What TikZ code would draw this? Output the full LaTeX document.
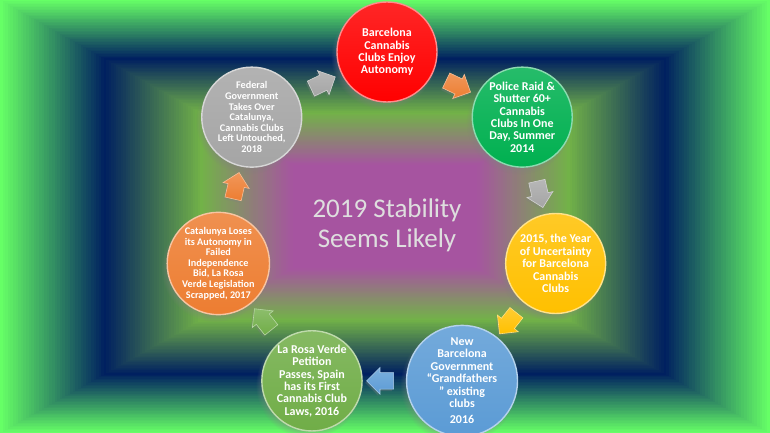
\documentclass[tikz,border=0pt]{standalone}
\usepackage{fontspec}
\setmainfont{Carlito}
\usetikzlibrary{calc,shapes.arrows,shadows,positioning}
\definecolor{bgEdge}{RGB}{102,255,102}
\definecolor{bgNavy}{RGB}{0,32,96}
\definecolor{bgGreen}{RGB}{114,178,72}
\definecolor{bgPink}{RGB}{166,84,160}
\definecolor{cRed}{RGB}{255,0,0}
\definecolor{cGreen}{RGB}{0,176,80}
\definecolor{cGold}{RGB}{255,192,0}
\definecolor{cBlue}{RGB}{91,155,213}
\definecolor{cLime}{RGB}{112,173,71}
\definecolor{cOrange}{RGB}{237,125,49}
\definecolor{cGray}{RGB}{165,165,165}
\definecolor{ctrText}{RGB}{222,222,222}
\tikzset{x=1pt, y=1pt,
  stage/.style={circle, minimum size=100pt, inner sep=0pt, line width=1.4pt, draw=white!55!#1, top color=#1!85!white, bottom color=#1, text=white, align=center, font=\fontsize{12}{12.4}\selectfont\bfseries, circular drop shadow={shadow xshift=-3pt, shadow yshift=-4pt, opacity=.45, shadow scale=1.06}},
  small/.style={font=\fontsize{10.2}{10.6}\selectfont\bfseries},
  turn/.style={single arrow, single arrow head extend=5pt, minimum height=27pt, inner sep=8pt, line width=.6pt, draw=white!50!#1, top color=#1!80!white, bottom color=#1, sloped, allow upside down, drop shadow={shadow xshift=-1.5pt, shadow yshift=-2pt, opacity=.3}}}
% one band of the rectangular background gradient: t0, t1, outer colour, inner colour
\newcommand\bgband[4]{%
  \foreach \i in {0,...,40}{
    \pgfmathsetmacro\t{#1+(#2-#1)*\i/40}
    \pgfmathtruncatemacro\p{100-2.5*\i}
    \fill[#3!\p!#4] (\t*385,\t*216.5) rectangle (770-\t*385,433-\t*216.5);
  }}

\begin{document}
\begin{tikzpicture}
    \useasboundingbox (0,0) rectangle (770,433);
    % background
    \bgband{0}{0.27}{bgEdge}{bgNavy}
    \bgband{0.27}{0.52}{bgNavy}{bgGreen}
    \bgband{0.52}{0.76}{bgGreen}{bgPink}
    \fill[bgPink] (0.76*385,0.76*216.5) rectangle (770-0.76*385,433-0.76*216.5);

    \coordinate (ctr) at (387,208);
    \node[font=\fontsize{27}{30}\selectfont, text=ctrText, align=center] (C) at (ctr) {2019 Stability\\Seems Likely};

    \node[stage=cRed] (N1) at ($(ctr)+(90:173)$) {Barcelona\\Cannabis\\Clubs Enjoy\\Autonomy};
    \node[stage=cGreen] (N2) at ($(ctr)+(38.57:173)$) {Police Raid \&\\Shutter 60+\\Cannabis\\Clubs In One\\Day, Summer\\2014};
    \node[stage=cGold] (N3) at ($(ctr)+(-12.86:173)$) {2015, the Year\\of Uncertainty\\for Barcelona\\Cannabis\\Clubs};
    \node[stage=cBlue] (N4) at ($(ctr)+(-64.29:173)$) {New\\Barcelona\\Government\\“Grandfathers\\” existing\\clubs\\[4pt]2016};
    \node[stage=cLime] (N5) at ($(ctr)+(-115.71:173)$) {La Rosa Verde\\Petition\\Passes, Spain\\has its First\\Cannabis Club\\Laws, 2016};
    \node[stage=cOrange, small] (N6) at ($(ctr)+(-167.14:173)$) {Catalunya Loses\\its Autonomy in\\Failed\\Independence\\Bid, La Rosa\\Verde Legislation\\Scrapped, 2017};
    \node[stage=cGray, small] (N7) at ($(ctr)+(141.43:173)$) {Federal\\Government\\Takes Over\\Catalunya,\\Cannabis Clubs\\Left Untouched,\\2018};

    \path (N1) -- node[turn=cOrange] (A1) {} (N2);
    \path (N2) -- node[turn=cGray] (A2) {} (N3);
    \path (N3) -- node[turn=cGold] (A3) {} (N4);
    \path (N4) -- node[turn=cBlue] (A4) {} (N5);
    \path (N5) -- node[turn=cLime] (A5) {} (N6);
    \path (N6) -- node[turn=cOrange] (A6) {} (N7);
    \path (N7) -- node[turn=cGray] (A7) {} (N1);
\end{tikzpicture}
\end{document}
